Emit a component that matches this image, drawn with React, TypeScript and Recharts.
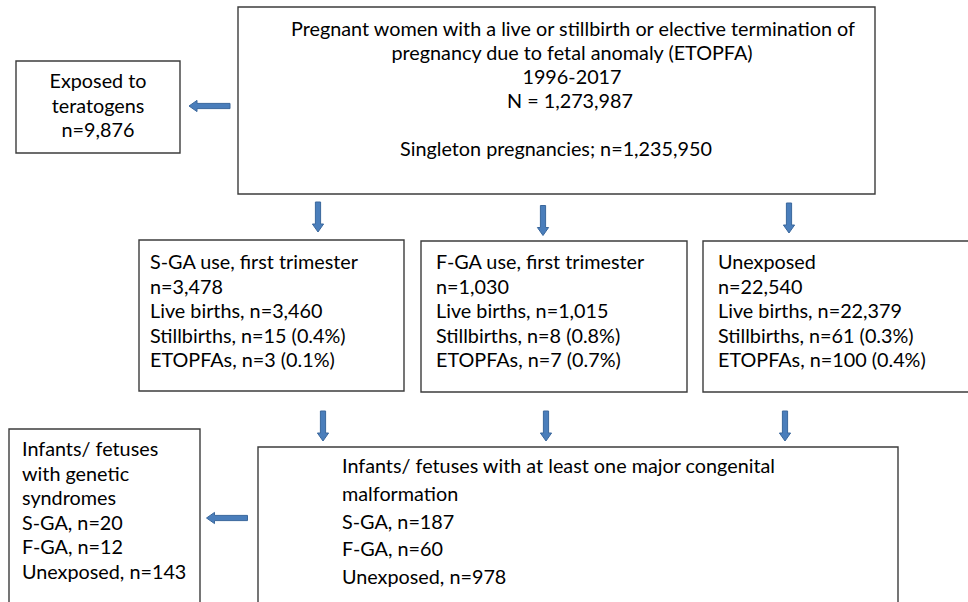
import React from 'react';
import { ComposedChart, XAxis, YAxis, ReferenceArea, Scatter } from 'recharts';

// ---- content ----
const mainLines = [
  'Pregnant women with a live or stillbirth or elective termination of',
  'pregnancy due to fetal anomaly (ETOPFA)',
  '1996-2017',
  'N = 1,273,987',
  '',
  'Singleton pregnancies; n=1,235,950',
];
const teratogenLines = ['Exposed to', 'teratogens', 'n=9,876'];
const sgaLines = [
  'S-GA use, first trimester',
  'n=3,478',
  'Live births, n=3,460',
  'Stillbirths, n=15 (0.4%)',
  'ETOPFAs, n=3 (0.1%)',
];
const fgaLines = [
  'F-GA use, first trimester',
  'n=1,030',
  'Live births, n=1,015',
  'Stillbirths, n=8 (0.8%)',
  'ETOPFAs, n=7 (0.7%)',
];
const unexposedLines = [
  'Unexposed',
  'n=22,540',
  'Live births, n=22,379',
  'Stillbirths, n=61 (0.3%)',
  'ETOPFAs, n=100 (0.4%)',
];
const geneticLines = [
  'Infants/ fetuses',
  'with genetic',
  'syndromes',
  'S-GA, n=20',
  'F-GA, n=12',
  'Unexposed, n=143',
];
const malformationLines = [
  'Infants/ fetuses with at least one major congenital',
  'malformation',
  'S-GA, n=187',
  'F-GA, n=60',
  'Unexposed, n=978',
];

// arrow anchor points (flow direction)
const arrowPoints = [
  { x: 209.5, y: 106, dir: 'left' },
  { x: 318, y: 217, dir: 'down' },
  { x: 543, y: 220.5, dir: 'down' },
  { x: 789, y: 218, dir: 'down' },
  { x: 323, y: 426, dir: 'down' },
  { x: 546, y: 426, dir: 'down' },
  { x: 785, y: 426, dir: 'down' },
  { x: 227, y: 518, dir: 'left' },
];

// ---- layout ----
const W = 968;
const H = 602;
const FONT = 'Lato, "Noto Sans", sans-serif';
const FONT_SIZE = 19.8;

type BoxSpec = {
  lines: string[];
  x1: number; x2: number; y1: number; y2: number;
  anchor: 'start' | 'middle';
  textX: number[] | number;
  baseline: number;
  lineHeight: number;
};

const boxes: BoxSpec[] = [
  { lines: mainLines, x1: 238, x2: 875, y1: 7, y2: 194, anchor: 'middle', textX: [573, 572, 572, 570, 556, 556], baseline: 36, lineHeight: 24 },
  { lines: teratogenLines, x1: 16, x2: 180, y1: 61, y2: 153, anchor: 'middle', textX: 98, baseline: 88, lineHeight: 24.5 },
  { lines: sgaLines, x1: 139, x2: 404, y1: 240, y2: 391, anchor: 'start', textX: 150, baseline: 269, lineHeight: 24.5 },
  { lines: fgaLines, x1: 421, x2: 687, y1: 241, y2: 392, anchor: 'start', textX: 436, baseline: 269, lineHeight: 24.5 },
  { lines: unexposedLines, x1: 703, x2: 1000, y1: 241, y2: 392, anchor: 'start', textX: 718, baseline: 269, lineHeight: 24.5 },
  { lines: geneticLines, x1: 9, x2: 200, y1: 429, y2: 650, anchor: 'start', textX: 22, baseline: 456, lineHeight: 24.6 },
  { lines: malformationLines, x1: 258, x2: 898, y1: 447, y2: 650, anchor: 'start', textX: 342, baseline: 473, lineHeight: 27.8 },
];

const makeLabel = (b: BoxSpec) => (props: any) => {
  const vb = props.viewBox || {};
  const sx = vb.width ? vb.width / (b.x2 - b.x1) : 1;
  const sy = vb.height ? vb.height / (b.y2 - b.y1) : 1;
  return (
    <g>
      {b.lines.map((t, i) => {
        const tx = Array.isArray(b.textX) ? b.textX[i] : b.textX;
        return (
          <text
            key={i}
            x={vb.x + (tx - b.x1) * sx}
            y={vb.y + (b.baseline + i * b.lineHeight - b.y1) * sy}
            textAnchor={b.anchor}
            fontFamily={FONT}
            fontSize={FONT_SIZE}
            fill="#000"
          >
            {t}
          </text>
        );
      })}
    </g>
  );
};

const ArrowShape = (p: any) => {
  const { cx, cy, payload } = p;
  if (cx == null || cy == null) return null;
  const sw = 2.6;
  const hw = 5.6;
  const hl = 8;
  let pts: number[][];
  if (payload.dir === 'down') {
    const L = 30;
    const t = cy - L / 2;
    const b = cy + L / 2;
    pts = [
      [cx - sw, t], [cx + sw, t], [cx + sw, b - hl], [cx + hw, b - hl],
      [cx, b], [cx - hw, b - hl], [cx - sw, b - hl],
    ];
  } else {
    const L = 41;
    const l = cx - L / 2;
    const r = cx + L / 2;
    pts = [
      [r, cy - sw], [r, cy + sw], [l + hl, cy + sw], [l + hl, cy + hw],
      [l, cy], [l + hl, cy - hw], [l + hl, cy - sw],
    ];
  }
  return (
    <polygon
      points={pts.map((q) => q.join(',')).join(' ')}
      fill="#4a7ebb"
      stroke="#3a679c"
      strokeWidth={1}
    />
  );
};

export default function App() {
  return (
    <div style={{ position: 'absolute', left: 0, top: 0, width: W, height: H, background: '#fff' }}>
      <ComposedChart width={W} height={H} margin={{ top: 0, right: 0, bottom: 0, left: 0 }}>
        <XAxis type="number" dataKey="x" domain={[0, W]} allowDataOverflow hide />
        <YAxis type="number" dataKey="y" domain={[0, H]} allowDataOverflow reversed hide />
        {boxes.map((b, i) => (
          <ReferenceArea
            key={i}
            x1={b.x1}
            x2={b.x2}
            y1={b.y1}
            y2={b.y2}
            ifOverflow="visible"
            fill="#fff"
            fillOpacity={1}
            stroke="#3c3c3c"
            strokeWidth={1.4}
            label={makeLabel(b)}
          />
        ))}
        <Scatter data={arrowPoints} isAnimationActive={false} shape={ArrowShape} />
      </ComposedChart>
    </div>
  );
}
